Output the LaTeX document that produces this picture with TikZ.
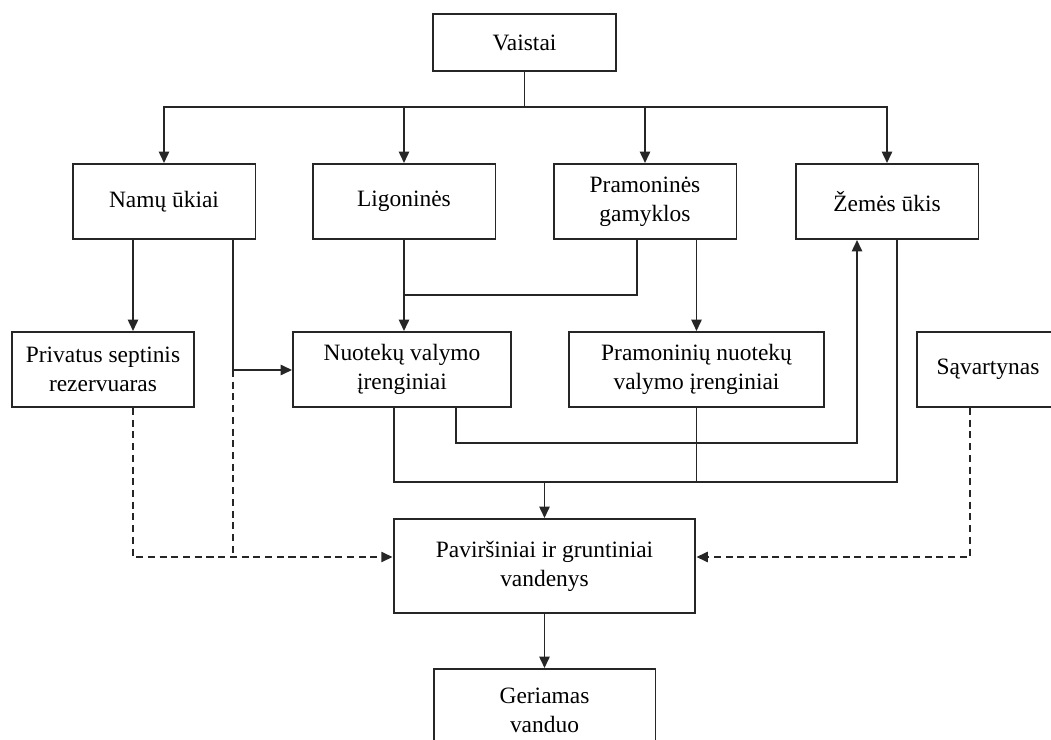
\documentclass[tikz,border=0pt]{standalone}
\usepackage{fontspec}
\setmainfont{Liberation Serif}
\usetikzlibrary{arrows.meta}

\begin{document}
\begin{tikzpicture}[
    x=0.018cm, y=-0.018cm,
    every node/.style={font=\fontsize{12}{14.8}\selectfont},
    box/.style={rectangle, draw=black!85, line width=1pt, align=center, inner sep=2pt, minimum height=1.35cm},
    topbox/.style={box, minimum width=3.294cm},
    line/.style={draw=black!85, line width=1pt},
    arrow/.style={line, -{Triangle[length=5.8pt,width=5.2pt]}},
    dashline/.style={line, dash pattern=on 3.6pt off 2.4pt},
    dasharrow/.style={dashline, -{Triangle[length=5.8pt,width=5.2pt]}}
]
    \useasboundingbox (0,0) rectangle (1051,740);
    \clip (0,0) rectangle (1051,740);

% -------------------------
% Source
% -------------------------
    \node[box, minimum width=3.294cm, minimum height=1.026cm] (vaistai) at (524.5, 42.5) {Vaistai};

% -------------------------
% First row
% -------------------------
    \node[topbox] (namu) at (164, 201.5) {Namų ūkiai};
    \node[topbox] (ligonines) at (404, 201.5) {Ligoninės};
    \node[topbox] (pramonines) at (645, 201.5) {Pramoninės\\gamyklos};
    \node[topbox] (zemes) at (887, 201.5) {Žemės ūkis};

% -------------------------
% Second row
% -------------------------
    \node[box, minimum width=3.276cm] (privatus) at (103, 369.5) {Privatus septinis\\rezervuaras};
    \node[box, minimum width=3.924cm] (nuotek) at (402, 369.5) {Nuotekų valymo\\įrenginiai};
    \node[box, minimum width=4.59cm] (pramoniniu) at (696.5, 369.5) {Pramoninių nuotekų\\valymo įrenginiai};
    \node[box, minimum width=2.556cm] (savartynas) at (988, 369.5) {Sąvartynas};

% -------------------------
% Water
% -------------------------
    \node[box, minimum width=5.436cm, minimum height=1.692cm] (pavirs) at (544.5, 566) {Paviršiniai ir gruntiniai\\vandenys};
    \node[box, minimum width=3.996cm, minimum height=1.476cm] (geriamas) at (544.5, 710) {Geriamas\\vanduo};

% routing points
    \coordinate (bus) at (524.5, 107);
    \coordinate (sepL) at (133, 557);
    \coordinate (sepR) at (970, 557);
    \coordinate (bendN) at (233, 370);
    \coordinate (joinL) at (637, 295);
    \coordinate (loopL) at (456, 443);
    \coordinate (loopR) at (857, 443);
    \coordinate (colL) at (394, 482);
    \coordinate (colR) at (897, 482);
    \coordinate (col) at (544.5, 482);

% -------------------------
% Arrows & Routing
% -------------------------
    \draw[line] (vaistai) -- (bus);
    \foreach \n in {namu, ligonines, pramonines, zemes}
        \draw[arrow] (bus) -| (\n);

    \draw[arrow] (namu.south -| sepL) -- (privatus.north -| sepL);
    \draw[arrow] (namu.south -| bendN) -- (bendN) -- (nuotek.west |- bendN);

    \draw[arrow] (ligonines) -- (ligonines |- nuotek.north);
    \draw[line] (pramonines.south -| joinL) |- (ligonines |- joinL);
    \draw[arrow] (pramonines.south -| pramoniniu) -- (pramoniniu);

% loop up to agriculture
    \draw[arrow] (nuotek.south -| loopL) -- (loopL) -- (loopR) -- (zemes.south -| loopR);

% collector down to water
    \draw[line] (nuotek.south -| colL) -- (colL) -- (colR) -- (zemes.south -| colR);
    \draw[line] (pramoniniu.south) -- (pramoniniu.south |- col);
    \draw[arrow] (col) -- (pavirs);
    \draw[arrow] (pavirs) -- (geriamas);

% dashed leaks
    \draw[dasharrow] (privatus.south -| sepL) -- (sepL) -- (pavirs.west |- sepL);
    \draw[dashline] (bendN) -- (bendN |- sepL);
    \draw[dasharrow] (savartynas.south -| sepR) -- (sepR) -- (pavirs.east |- sepR);
\end{tikzpicture}
\end{document}
